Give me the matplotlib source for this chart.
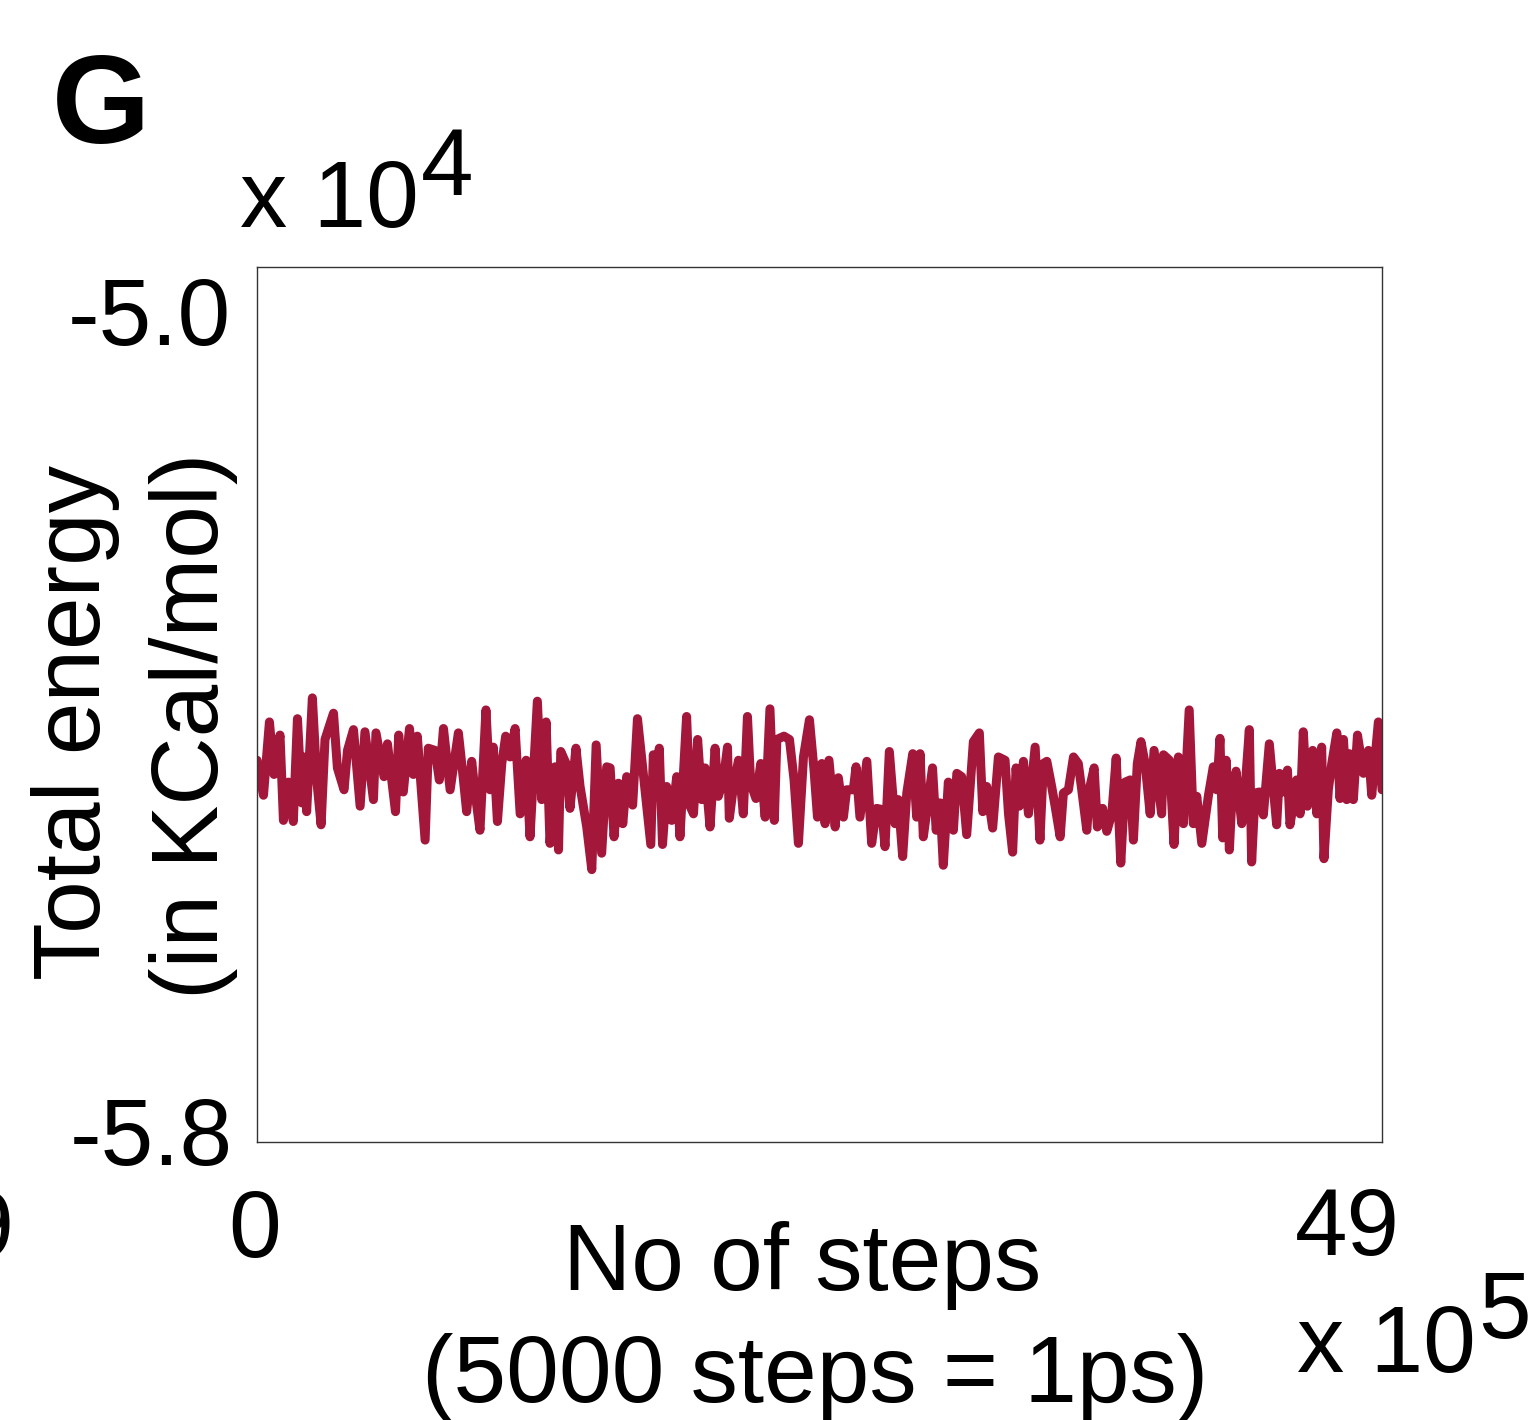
import matplotlib
matplotlib.use("Agg")
import matplotlib.pyplot as plt

plt.rcParams['font.family'] = ['Liberation Sans', 'DejaVu Sans']

# simulation step (x 10^5) and total energy (x 10^4 kcal/mol)
steps = [
    0.00, 0.28, 0.54, 0.74, 1.00, 1.15, 1.37, 1.58, 1.76, 1.95, 2.05, 2.16, 2.41, 2.60, 2.79, 2.96,
    3.33, 3.50, 3.79, 3.94, 4.20, 4.49, 4.70, 5.07, 5.18, 5.53, 5.68, 6.03, 6.17, 6.37, 6.64, 6.81,
    6.98, 7.32, 7.46, 7.75, 7.94, 8.12,
    8.41, 8.77, 8.99, 9.13, 9.35, 9.50, 9.71, 9.97, 10.15, 10.29, 10.47, 10.66, 10.83, 11.02, 11.24,
    11.46, 11.72, 11.89, 12.21, 12.40, 12.59, 12.76, 12.98, 13.13, 13.23, 13.46, 13.63, 13.89, 14.07,
    14.36, 14.58, 14.77, 14.94, 15.01, 15.23, 15.38, 15.55, 15.74, 15.93, 16.10, 16.36, 16.57,
    16.90, 17.15, 17.26, 17.41, 17.52, 17.66, 17.84, 18.06, 18.28, 18.42, 18.71, 18.86, 19.01, 19.19,
    19.37, 19.51, 19.73, 19.95, 20.09, 20.31, 20.49, 20.57, 20.75, 20.97, 21.18, 21.36, 21.50, 21.73,
    21.94, 22.13, 22.34, 22.53, 22.64, 22.95, 23.19, 23.39, 23.58, 23.80, 24.06, 24.26, 24.41, 24.60,
    24.74, 24.91,
    25.18, 25.32, 25.54, 25.68, 25.97, 26.09, 26.26, 26.56, 26.77, 26.99, 27.21, 27.35, 27.54, 27.79,
    27.93, 28.12, 28.30, 28.56, 28.73, 28.88, 29.02, 29.20, 29.42, 29.58, 29.75, 29.89, 30.11, 30.33,
    30.48, 30.69, 30.91, 31.09, 31.20, 31.46, 31.61, 31.78, 32.04, 32.29, 32.58, 32.73, 32.91, 33.06,
    33.20,
    33.38, 33.60, 33.89, 34.10, 34.25, 34.40, 34.61, 34.76, 34.98, 35.12, 35.34, 35.56, 35.77, 35.92,
    36.14, 36.28, 36.46, 36.60, 36.83, 37.01, 37.23, 37.42, 37.62, 37.81, 38.03, 38.17, 38.34, 38.50,
    38.68, 38.90, 39.07, 39.40, 39.48, 39.74, 39.94, 40.13, 40.35, 40.60, 40.78, 40.93, 41.15,
    41.44, 41.65, 41.80, 41.94, 42.06, 42.21, 42.35, 42.45, 42.64, 42.89, 43.03, 43.22, 43.32, 43.47,
    43.66, 43.83, 44.09, 44.27, 44.41, 44.53, 44.70, 44.88, 44.99, 45.17, 45.28, 45.43, 45.57, 45.75,
    45.98, 46.16, 46.37, 46.47, 46.66, 46.81, 47.03, 47.17, 47.32, 47.46, 47.58, 47.75, 47.93, 48.19,
    48.41, 48.55, 48.84, 49.00,
]
energy = [
    -5.451, -5.483, -5.416, -5.464, -5.428, -5.506, -5.471, -5.507, -5.413, -5.490, -5.448, -5.498,
    -5.394, -5.469, -5.510, -5.432, -5.408, -5.458, -5.478, -5.442, -5.423, -5.493, -5.425, -5.487,
    -5.426, -5.466, -5.436, -5.498, -5.428, -5.480, -5.422, -5.464, -5.429, -5.524, -5.440, -5.442,
    -5.469, -5.422,
    -5.478, -5.426, -5.469, -5.498, -5.452, -5.481, -5.515, -5.405, -5.478, -5.439, -5.507, -5.454,
    -5.429, -5.448, -5.422, -5.500, -5.451, -5.521, -5.397, -5.487, -5.416, -5.527, -5.457, -5.533,
    -5.443, -5.454, -5.495, -5.440, -5.475, -5.512, -5.551, -5.437, -5.506, -5.536, -5.457, -5.458,
    -5.521, -5.472, -5.509, -5.466, -5.492, -5.413,
    -5.478, -5.528, -5.446, -5.484, -5.440, -5.528, -5.475, -5.506, -5.466, -5.521, -5.411, -5.493,
    -5.500, -5.432, -5.487, -5.458, -5.512, -5.440, -5.484, -5.469, -5.439, -5.504, -5.475, -5.451,
    -5.500, -5.411, -5.472, -5.486, -5.454, -5.503, -5.404, -5.506, -5.432, -5.429, -5.432, -5.469,
    -5.527, -5.448, -5.414, -5.460, -5.503, -5.454, -5.509, -5.451,
    -5.512, -5.467, -5.503, -5.478, -5.478, -5.457, -5.503, -5.452, -5.527, -5.495, -5.496, -5.530,
    -5.443, -5.509, -5.487, -5.539, -5.481, -5.445, -5.503, -5.445, -5.521, -5.493, -5.458, -5.515,
    -5.490, -5.547, -5.471, -5.515, -5.463, -5.466, -5.519, -5.466, -5.434, -5.426, -5.498, -5.475,
    -5.513, -5.448, -5.451, -5.500, -5.535, -5.458, -5.493,
    -5.452, -5.500, -5.439, -5.524, -5.454, -5.452, -5.475, -5.493, -5.521, -5.481, -5.478, -5.448,
    -5.454, -5.478, -5.515, -5.475, -5.458, -5.512, -5.495, -5.516, -5.500, -5.449, -5.545, -5.471,
    -5.469, -5.524, -5.454, -5.434, -5.454, -5.500, -5.442, -5.500, -5.446, -5.451, -5.528, -5.448,
    -5.509, -5.405, -5.509, -5.484, -5.527,
    -5.483, -5.457, -5.478, -5.431, -5.522, -5.451, -5.533, -5.490, -5.461, -5.509, -5.478, -5.423,
    -5.544, -5.481, -5.480, -5.501, -5.436, -5.478, -5.510, -5.463, -5.480, -5.460, -5.510, -5.487,
    -5.469, -5.500, -5.425, -5.493, -5.442, -5.500, -5.439, -5.541, -5.478, -5.454, -5.426, -5.486,
    -5.432, -5.487, -5.445, -5.487, -5.428, -5.463, -5.442, -5.483, -5.416, -5.478,
]

x_ticks = [0, 49]
y_ticks = [-5.8, -5.0]
y_tick_labels = ['-5.8', '-5.0']

line_color = '#A3173A'
fs = 68

fig = plt.figure(figsize=(15.3, 14.2), dpi=100)
ax = fig.add_axes([0.1680, 0.1958, 0.7353, 0.6162])

ax.plot(steps, energy, color=line_color, linewidth=6.5, solid_joinstyle='round',
        solid_capstyle='round')

ax.set_xlim(x_ticks[0], x_ticks[-1])
ax.set_ylim(y_ticks[0], y_ticks[-1])
ax.set_xticks([])
ax.set_yticks([])
for sp in ax.spines.values():
    sp.set_linewidth(1.0)
    sp.set_color('#333333')

# tick labels sit a bit off their ticks, so place them by hand
fig.text(0.151, 0.757, y_tick_labels[1], ha='right', va='baseline', fontsize=fs)
fig.text(0.1523, 0.1796, y_tick_labels[0], ha='right', va='baseline', fontsize=fs)
fig.text(0.1667, 0.1148, str(x_ticks[0]), ha='center', va='baseline', fontsize=fs)
fig.text(0.8464, 0.1162, str(x_ticks[1]), ha='left', va='baseline', fontsize=fs)

# multipliers
fig.text(0.1569, 0.8401, 'x 10', ha='left', va='baseline', fontsize=fs)
fig.text(0.2752, 0.8627, '4', ha='left', va='baseline', fontsize=fs)
fig.text(0.8477, 0.0338, 'x 10', ha='left', va='baseline', fontsize=fs)
fig.text(0.9660, 0.0577, '5', ha='left', va='baseline', fontsize=fs)

# axis labels
fig.text(0.5242, 0.0915, 'No of steps', ha='center', va='baseline', fontsize=fs)
fig.text(0.5327, 0.0125, '(5000 steps = 1ps)', ha='center', va='baseline', fontsize=fs)
fig.text(0.0654, 0.4915, 'Total energy', rotation=90, rotation_mode='anchor',
         ha='center', va='baseline', fontsize=fs)
fig.text(0.1425, 0.4887, '(in KCal/mol)', rotation=90, rotation_mode='anchor',
         ha='center', va='baseline', fontsize=fs)

# panel letter and the edge of the neighbouring panel's tick
fig.text(0.034, 0.8993, 'G', ha='left', va='baseline', fontsize=91, fontweight='bold')
fig.text(0.0098, 0.1148, '49', ha='right', va='baseline', fontsize=fs)

fig.savefig('out.png', dpi=100, facecolor='white')
